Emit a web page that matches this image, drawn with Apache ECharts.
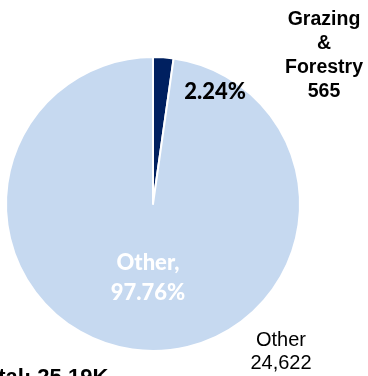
<!DOCTYPE html>
<html>
<head>
<meta charset="utf-8">
<style>
  html, body { margin: 0; padding: 0; background: #ffffff; }
  #chart { width: 368px; height: 376px; }
</style>
<script src="https://cdn.jsdelivr.net/npm/echarts@6/dist/echarts.min.js"></script>
</head>
<body>
<div id="chart"></div>
<script>
// Land use shares
const categories = ['Grazing & Forestry', 'Other'];
const calloutNames = ['Grazing\n&\nForestry', 'Other'];
const values = [565, 24622];
const colors = ['#002060', '#C6D9F0'];

const total = values.reduce((a, b) => a + b, 0);
const pct = v => (v / total * 100).toFixed(2) + '%';
const fmtK = v => (v / 1000).toFixed(2) + 'K';
const fmtInt = v => v.toLocaleString('en-US');

const chart = echarts.init(document.getElementById('chart'), null, { renderer: 'canvas' });

const centerX = 153, centerY = 204, radius = 147;

chart.setOption({
  animation: false,
  backgroundColor: '#ffffff',
  series: [{
    type: 'pie',
    z: 1,
    center: [centerX, centerY],
    radius: [0, radius],
    startAngle: 90,
    clockwise: true,
    label: { show: false },
    labelLine: { show: false },
    itemStyle: { borderColor: '#ffffff', borderWidth: 2 },
    emphasis: { disabled: true },
    data: categories.map((c, i) => ({
      name: c,
      value: values[i],
      itemStyle: { color: colors[i] }
    }))
  }],
  graphic: {
    elements: [
      {
        type: 'text', x: 215, y: 92, z: 100,
        style: {
          text: pct(values[0]),
          font: '900 22px Lato, sans-serif',
          fill: '#000000', align: 'center', verticalAlign: 'middle'
        }
      },
      {
        type: 'text', x: 148, y: 278, z: 100,
        style: {
          text: categories[1] + ',\n' + pct(values[1]),
          font: '900 22px Lato, sans-serif',
          lineHeight: 30,
          fill: '#ffffff', align: 'center', verticalAlign: 'middle'
        }
      },
      {
        type: 'text', x: 324, y: 56, z: 100,
        style: {
          text: calloutNames[0] + '\n' + fmtInt(values[0]),
          font: 'bold 19.5px Arial, sans-serif',
          lineHeight: 24,
          fill: '#000000', align: 'center', verticalAlign: 'middle'
        }
      },
      {
        type: 'text', x: 281, y: 352, z: 100,
        style: {
          text: calloutNames[1] + '\n' + fmtInt(values[1]),
          font: '20px Arial, sans-serif',
          lineHeight: 23,
          fill: '#000000', align: 'center', verticalAlign: 'middle'
        }
      },
      {
        type: 'text', x: -27, y: 378, z: 100,
        style: {
          text: 'Total: ' + fmtK(total),
          font: 'bold 22px Arial, sans-serif',
          fill: '#000000', align: 'left', verticalAlign: 'middle'
        }
      }
    ]
  }
});
</script>
</body>
</html>
